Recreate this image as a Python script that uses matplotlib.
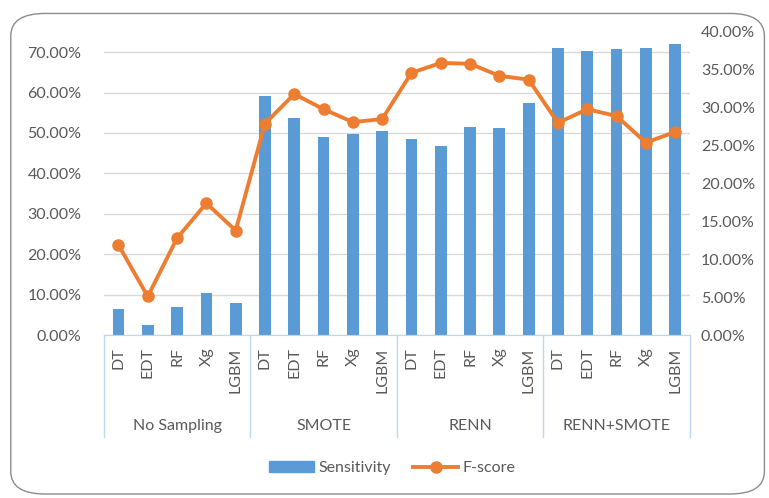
import matplotlib.pyplot as plt
from matplotlib.patches import FancyBboxPatch
from matplotlib.lines import Line2D
from matplotlib.ticker import PercentFormatter
import numpy as np

plt.rcParams['font.family'] = ['Lato', 'DejaVu Sans']

groups = ["No Sampling", "SMOTE", "RENN", "RENN+SMOTE"]
models = ["DT", "EDT", "RF", "Xg", "LGBM"]

# values in percent
sensitivity = [6.5, 2.4, 7.0, 10.4, 7.9,
               59.1, 53.8, 49.1, 49.7, 50.4,
               48.6, 46.8, 51.4, 51.3, 57.4,
               70.9, 70.3, 70.7, 71.0, 72.1]
fscore = [11.9, 5.1, 12.8, 17.4, 13.8,
          27.9, 31.8, 29.8, 28.1, 28.5,
          34.6, 35.9, 35.8, 34.2, 33.7,
          28.0, 29.8, 28.9, 25.4, 26.8]

blue = "#5B9BD5"
orange = "#ED7D31"
txt = "#595959"
sep = "#BDD7EE"

fig = plt.figure(figsize=(7.69, 4.98), dpi=100)
fig.patches.append(FancyBboxPatch((0.014, 0.008), 0.98, 0.965,
                                  boxstyle="round,pad=0,rounding_size=0.045",
                                  transform=fig.transFigure, fill=False,
                                  edgecolor="#8c8c8c", linewidth=1.0))

ax = fig.add_axes([0.135, 0.327, 0.762, 0.609])
x = np.arange(len(sensitivity))
ax.bar(x, sensitivity, width=0.4, color=blue, zorder=2)
ax.set_xlim(-0.5, len(x) - 0.5)
ax.set_ylim(0, 75)
ax.set_yticks(np.arange(0, 71, 10))
ax.yaxis.set_major_formatter(PercentFormatter(decimals=2))
ax.grid(axis="y", color="#D9D9D9", linewidth=1, zorder=0)
ax.set_axisbelow(True)
for s in ["top", "right", "left"]:
    ax.spines[s].set_visible(False)
ax.spines["bottom"].set_color(sep)
ax.tick_params(axis="y", length=0, labelsize=11.5, labelcolor=txt, pad=16)
ax.set_xticks([])

ax2 = ax.twinx()
ax2.plot(x, fscore, color=orange, linewidth=2.8, marker="o", markersize=8, zorder=3)
ax2.set_ylim(0, 40)
ax2.set_yticks(np.arange(0, 41, 5))
ax2.yaxis.set_major_formatter(PercentFormatter(decimals=2))
for s in ["top", "right", "left", "bottom"]:
    ax2.spines[s].set_visible(False)
ax2.tick_params(axis="y", length=0, labelsize=11.5, labelcolor=txt, pad=8)

# category labels (two levels)
trans = ax.get_xaxis_transform()
for i in x:
    ax.text(i, -0.04, models[i % 5], rotation=90, ha="center", va="top",
            fontsize=11.5, color=txt, transform=trans, clip_on=False)
for g, name in enumerate(groups):
    ax.text(g * 5 + 2, -0.30, name, ha="center", va="center",
            fontsize=11.5, color=txt, transform=trans, clip_on=False)
for b in range(5):
    ax.add_line(Line2D([b * 5 - 0.5] * 2, [0, -0.335], transform=trans,
                       color=sep, linewidth=1, clip_on=False))

handles = [plt.Rectangle((0, 0), 1, 1, color=blue),
           Line2D([], [], color=orange, linewidth=2.8, marker="o", markersize=8)]
fig.legend(handles, ["Sensitivity", "F-score"], loc="center",
           bbox_to_anchor=(0.51, 0.06), ncol=2, frameon=False,
           fontsize=11.5, labelcolor=txt, handlelength=2.8,
           handletextpad=0.3, columnspacing=1.4)

fig.savefig("out.png", dpi=100)
